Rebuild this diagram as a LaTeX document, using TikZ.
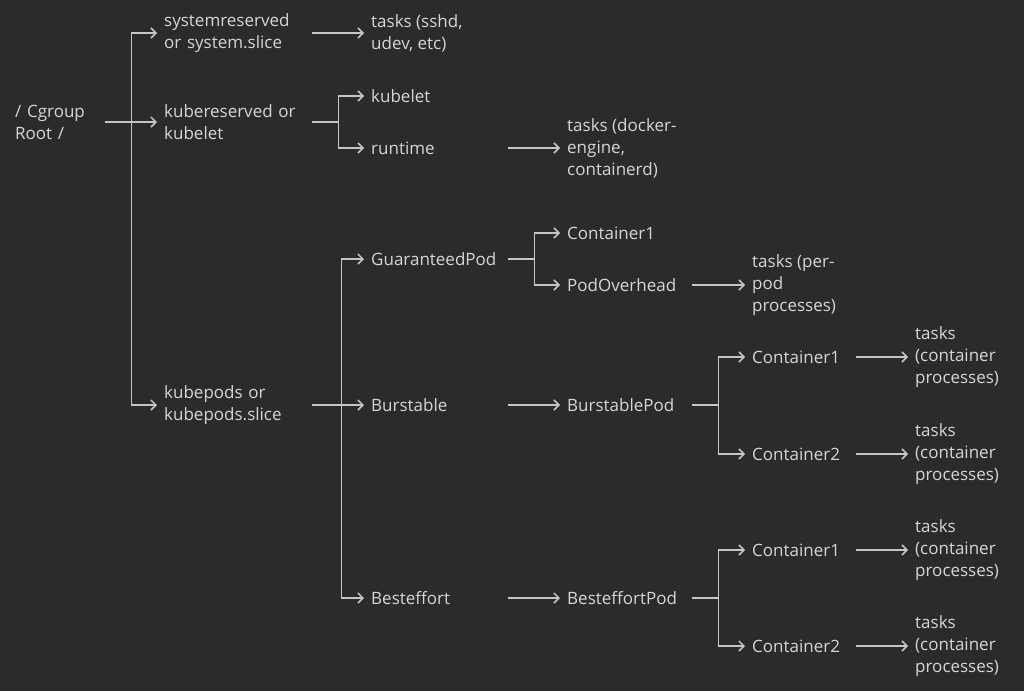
\documentclass[tikz,border=0pt]{standalone}
\usepackage{fontspec}
\setmainfont{Open Sans}
\usepackage{xcolor}
\usetikzlibrary{positioning,arrows.meta,backgrounds}

\definecolor{bg}{HTML}{2B2B2B}
\definecolor{fg}{HTML}{D6D6D6}
\definecolor{lc}{HTML}{C6C6C6}

\tikzset{
    lbl/.style={anchor=west, inner xsep=7pt, inner ysep=2pt, align=left, text=fg,
        font=\fontsize{17}{22}\selectfont},
    col0/.style={lbl, text width=83pt},
    col1/.style={lbl, text width=141pt},
    col2/.style={lbl, text width=130pt},
    col3/.style={lbl, text width=118pt},
    col4/.style={lbl, text width=97pt},
    line/.style={draw=lc, line width=1.5pt},
    link/.style={line, -{Straight Barb[length=5pt,width=10pt]}}
}

\begin{document}
\begin{tikzpicture}[x=1pt, y=-1pt]
    \fill[bg] (0,0) rectangle (1024,691);
    \useasboundingbox (0,0) rectangle (1024,691);

    %% Root and top level slices
    \node[col0] (root) at (8,122) {/ Cgroup\\Root /};
    \node[col1] (sys) at (157,33) {systemreserved\\or system.slice};
    \node[col1] (kres) at (157,122) {kubereserved or\\kubelet};
    \node[col1] (kpods) at (157,405) {kubepods or\\kubepods.slice};

    \path (root.east) ++(26,0) coordinate (j0);
    \draw[link] (root.east) -- (kres.west);
    \draw[link] (j0) |- (sys.west);
    \draw[link] (j0) |- (kpods.west);

    %% System reserved
    \node[lbl] (systasks) at (364,33) {tasks (sshd,\\udev, etc)};
    \draw[link] (sys.east) -- (systasks.west);

    %% Kube reserved
    \node[col2] (kubelet) at (364,96) {kubelet};
    \node[col2] (runtime) at (364,148) {runtime};
    \node[lbl] (rttasks) at (560,148) {tasks (docker-\\engine,\\containerd)};

    \path (kres.east) ++(26,0) coordinate (j1);
    \draw[line] (kres.east) -- (j1);
    \draw[link] (j1) |- (kubelet.west);
    \draw[link] (j1) |- (runtime.west);
    \draw[link] (runtime.east) -- (rttasks.west);

    %% Kube pods: QoS classes
    \node[col2] (gpod) at (364,259) {GuaranteedPod};
    \node[col2] (burst) at (364,405) {Burstable};
    \node[col2] (best) at (364,598) {Besteffort};

    \path (kpods.east) ++(29,0) coordinate (j2);
    \draw[link] (kpods.east) -- (burst.west);
    \draw[link] (j2) |- (gpod.west);
    \draw[link] (j2) |- (best.west);

    %% Guaranteed
    \node[col3] (gc1) at (560,233) {Container1};
    \node[col3] (ghead) at (560,285) {PodOverhead};
    \node[lbl] (gtasks) at (745,285) {tasks (per-\\pod\\processes)};

    \path (gpod.east) ++(26,0) coordinate (j3);
    \draw[line] (gpod.east) -- (j3);
    \draw[link] (j3) |- (gc1.west);
    \draw[link] (j3) |- (ghead.west);
    \draw[link] (ghead.east) -- (gtasks.west);

    %% Burstable
    \node[col3] (bpod) at (560,405) {BurstablePod};
    \node[col4] (bc1) at (745,357) {Container1};
    \node[col4] (bc2) at (745,454) {Container2};
    \node[lbl] (bt1) at (908,357) {tasks\\(container\\processes)};
    \node[lbl] (bt2) at (908,454) {tasks\\(container\\processes)};

    \draw[link] (burst.east) -- (bpod.west);
    \path (bpod.east) ++(26,0) coordinate (j4);
    \draw[line] (bpod.east) -- (j4);
    \draw[link] (j4) |- (bc1.west);
    \draw[link] (j4) |- (bc2.west);
    \draw[link] (bc1.east) -- (bt1.west);
    \draw[link] (bc2.east) -- (bt2.west);

    %% Besteffort
    \node[col3] (epod) at (560,598) {BesteffortPod};
    \node[col4] (ec1) at (745,550) {Container1};
    \node[col4] (ec2) at (745,646) {Container2};
    \node[lbl] (et1) at (908,550) {tasks\\(container\\processes)};
    \node[lbl] (et2) at (908,646) {tasks\\(container\\processes)};

    \draw[link] (best.east) -- (epod.west);
    \path (epod.east) ++(26,0) coordinate (j5);
    \draw[line] (epod.east) -- (j5);
    \draw[link] (j5) |- (ec1.west);
    \draw[link] (j5) |- (ec2.west);
    \draw[link] (ec1.east) -- (et1.west);
    \draw[link] (ec2.east) -- (et2.west);
\end{tikzpicture}
\end{document}
